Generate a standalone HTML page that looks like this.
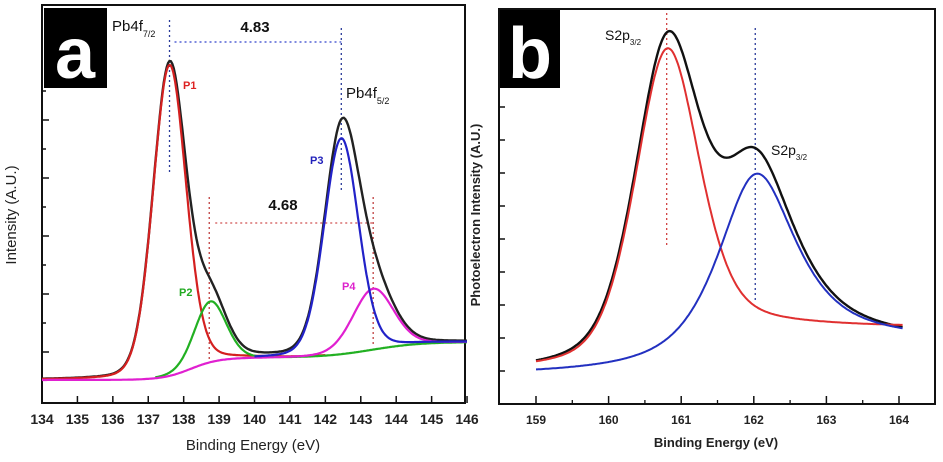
<!DOCTYPE html>
<html><head><meta charset="utf-8">
<style>
html,body{margin:0;padding:0;background:#fff;}
svg{display:block;font-family:"Liberation Sans",sans-serif;}
</style></head>
<body>
<svg id="chart" width="943" height="462" viewBox="0 0 943 462">
  <g id="pa">
    <rect x="42" y="5" width="423" height="398" fill="none" stroke="#111" stroke-width="2"/>
    <g id="pa-ticks"></g>
    <g id="pa-annot"></g>
    <g id="pa-curves"></g>
    <rect x="44" y="8" width="63" height="80" fill="#000"/>
    <text x="75" y="78" fill="#fff" font-size="72" font-weight="bold" text-anchor="middle">a</text>
    <text x="112" y="31" font-size="15" fill="#111">Pb4f<tspan font-size="9" dy="6">7/2</tspan></text>
    <text x="255" y="32" font-size="15" font-weight="bold" fill="#111" text-anchor="middle">4.83</text>
    <text x="346" y="98" font-size="15" fill="#111">Pb4f<tspan font-size="9" dy="6">5/2</tspan></text>
    <text x="283" y="210" font-size="15" font-weight="bold" fill="#111" text-anchor="middle">4.68</text>
    <text x="183" y="89" font-size="11" font-weight="bold" fill="#d22">P1</text>
    <text x="179" y="296" font-size="11" font-weight="bold" fill="#2a2">P2</text>
    <text x="310" y="164" font-size="11" font-weight="bold" fill="#22b">P3</text>
    <text x="342" y="290" font-size="11" font-weight="bold" fill="#d2c">P4</text>
    <text transform="translate(16,215) rotate(-90)" font-size="15" fill="#222" text-anchor="middle">Intensity (A.U.)</text>
    <text x="253" y="450" font-size="15" fill="#222" text-anchor="middle">Binding Energy (eV)</text>
  </g>
  <g id="pb">
    <rect x="499" y="9" width="436" height="395" fill="none" stroke="#111" stroke-width="2"/>
    <g id="pb-ticks"></g>
    <g id="pb-annot"></g>
    <g id="pb-curves"></g>
    <rect x="500" y="10" width="60" height="78" fill="#000"/>
    <text x="530" y="78" fill="#fff" font-size="72" font-weight="bold" text-anchor="middle">b</text>
    <text x="605" y="40" font-size="14" fill="#111">S2p<tspan font-size="8" dy="5">3/2</tspan></text>
    <text x="771" y="155" font-size="14" fill="#111">S2p<tspan font-size="8" dy="5">3/2</tspan></text>
    <text transform="translate(480,215) rotate(-90)" font-size="13" font-weight="bold" fill="#222" text-anchor="middle">Photoelectron Intensity (A.U.)</text>
    <text x="716" y="447" font-size="13" font-weight="bold" fill="#222" text-anchor="middle">Binding Energy (eV)</text>
  </g>
</svg>
<script>
// ---------- Panel a data ----------
const aTicks = [134,135,136,137,138,139,140,141,142,143,144,145,146];
const aPeakNames = ['P1','P2','P3','P4'];
const aCenters = [137.6, 138.75, 142.45, 143.35];
const aAmps = [311, 61, 216, 61];
const aFwhm = [1.1, 1.05, 1.15, 1.35];
const aEta = [0.15, 0.15, 0.15, 0.15];
const aColors = ['#d42020','#22b022','#2222c8','#e020d0'];
const aRanges = [[134,142],[137.2,146],[140,146],[134,146]];
const aBgLevels = [23, 45, 61];
const aBgSteps = [138.2, 143.3];
// ---------- Panel b data ----------
const bTicks = [159,160,161,162,163,164];
const bCenters = [160.8, 162.02];
const bAmps = [301, 185];
const bFwhm = [1.05, 1.3];
const bEta = [0.4, 0.8];
const bBgLo = [33, 28];
const bBgHi = [76, 62];
const bSharedBg = [33, 78];

const NS='http://www.w3.org/2000/svg';
function el(tag, attrs, parent){const e=document.createElementNS(NS,tag);for(const k in attrs)e.setAttribute(k,attrs[k]);parent.appendChild(e);return e;}
function pv(x,c,a,w,eta){const d=x-c;const g=Math.exp(-4*Math.LN2*d*d/(w*w));const l=1/(1+4*d*d/(w*w));return a*(eta*l+(1-eta)*g);}
function sig(x,c,s){return 1/(1+Math.exp(-(x-c)/s));}

const axA = x => 42 + (x-134)*35.42;
const ayA = v => 403 - v;
const axB = x => 536 + (x-159)*72.6;
const ayB = v => 404 - v;

function bgA(x){return aBgLevels[0]+(aBgLevels[1]-aBgLevels[0])*sig(x,aBgSteps[0],0.4)+(aBgLevels[2]-aBgLevels[1])*sig(x,aBgSteps[1],0.7);}
function peakA(i,x){return pv(x,aCenters[i],aAmps[i],aFwhm[i],aEta[i]);}
function pathFrom(f, x0, x1, ax, ay){let s='';const n=300;for(let k=0;k<=n;k++){const x=x0+(x1-x0)*k/n;s+=(k?'L':'M')+ax(x).toFixed(1)+','+ay(f(x)).toFixed(1);}return s;}

const ta=document.getElementById('pa-ticks');
aTicks.forEach(t=>{
  const l=el('line',{x1:axA(t),x2:axA(t),y1:403,y2:396,stroke:'#111','stroke-width':1.5},ta);
  
  
  const tx=el('text',{x:axA(t),y:424,'font-size':14,'font-weight':'bold','text-anchor':'middle',fill:'#222'},ta);
  tx.textContent=t;
  
  
});
for(let y=352;y>85;y-=29){
  const l=el('line',{x1:42,x2:((352-y)/29)%2===0?49:46,y1:y,y2:y,stroke:'#111','stroke-width':1.5},ta);
  
  
}
const an=document.getElementById('pa-annot');
function dline(x1,y1,x2,y2,c,name){const l=el('line',{x1,y1,x2,y2,stroke:c,'stroke-width':1.3,'stroke-dasharray':'2,3'},an);}
dline(axA(aCenters[0]),20,axA(aCenters[0]),172,'#2a3a9a','p1-guide');
dline(axA(aCenters[2]),28,axA(aCenters[2]),190,'#2a3a9a','p3-guide');
dline(axA(aCenters[0])+5,42,axA(aCenters[2]),42,'#3344cc','spacing-4-83');
dline(axA(aCenters[1])-1,197,axA(aCenters[1])-1,360,'#c04040','p2-guide');
dline(axA(aCenters[3]),197,axA(aCenters[3]),345,'#c04040','p4-guide');
dline(axA(aCenters[1])+5,223,axA(aCenters[3]),223,'#d05050','spacing-4-68');

const ca=document.getElementById('pa-curves');
const totA = x => bgA(x)+[0,1,2,3].reduce((s,i)=>s+peakA(i,x),0);
let p=el('path',{d:pathFrom(totA,134,146,axA,ayA),fill:'none',stroke:'#222','stroke-width':2.4},ca);


[0,1,3,2].forEach(i=>{
  const pp=el('path',{d:pathFrom(x=>bgA(x)+peakA(i,x),aRanges[i][0],aRanges[i][1],axA,ayA),fill:'none',stroke:aColors[i],'stroke-width':2.2},ca);
  
  
});

const tb=document.getElementById('pb-ticks');
bTicks.forEach(t=>{
  const l=el('line',{x1:axB(t),x2:axB(t),y1:404,y2:396,stroke:'#111','stroke-width':1.5},tb);
  
  
  const tx=el('text',{x:axB(t),y:424,'font-size':12,'font-weight':'bold','text-anchor':'middle',fill:'#222'},tb);
  tx.textContent=t;
  
  
  if(t<164){const m=el('line',{x1:axB(t+0.5),x2:axB(t+0.5),y1:404,y2:400,stroke:'#111','stroke-width':1.3},tb);
    
    }
});
for(let y=371;y>100;y-=33){
  const l=el('line',{x1:499,x2:505,y1:y,y2:y,stroke:'#111','stroke-width':1.5},tb);
  
  
}
const bn=document.getElementById('pb-annot');
function dlineB(x1,y1,x2,y2,c,name){const l=el('line',{x1,y1,x2,y2,stroke:c,'stroke-width':1.3,'stroke-dasharray':'2,3'},bn);}
dlineB(axB(bCenters[0]),13,axB(bCenters[0]),247,'#d04040','s2p-guide-1');
dlineB(axB(bCenters[1]),28,axB(bCenters[1]),302,'#2a3a9a','s2p-guide-2');

function compB(i,x){return bBgLo[i]+(bBgHi[i]-bBgLo[i])*sig(x,bCenters[i],0.35)+pv(x,bCenters[i],bAmps[i],bFwhm[i],bEta[i]);}
function totB(x){return compB(0,x)+compB(1,x)-(bSharedBg[0]+(bSharedBg[1]-bSharedBg[0])*sig(x,161.1,0.5));}
const cb=document.getElementById('pb-curves');
p=el('path',{d:pathFrom(totB,159,164.05,axB,ayB),fill:'none',stroke:'#111','stroke-width':2.4},cb);


p=el('path',{d:pathFrom(x=>compB(0,x),159,164.05,axB,ayB),fill:'none',stroke:'#e03030','stroke-width':2},cb);


p=el('path',{d:pathFrom(x=>compB(1,x),159,164.05,axB,ayB),fill:'none',stroke:'#2230c0','stroke-width':2},cb);


</script>
</body></html>
